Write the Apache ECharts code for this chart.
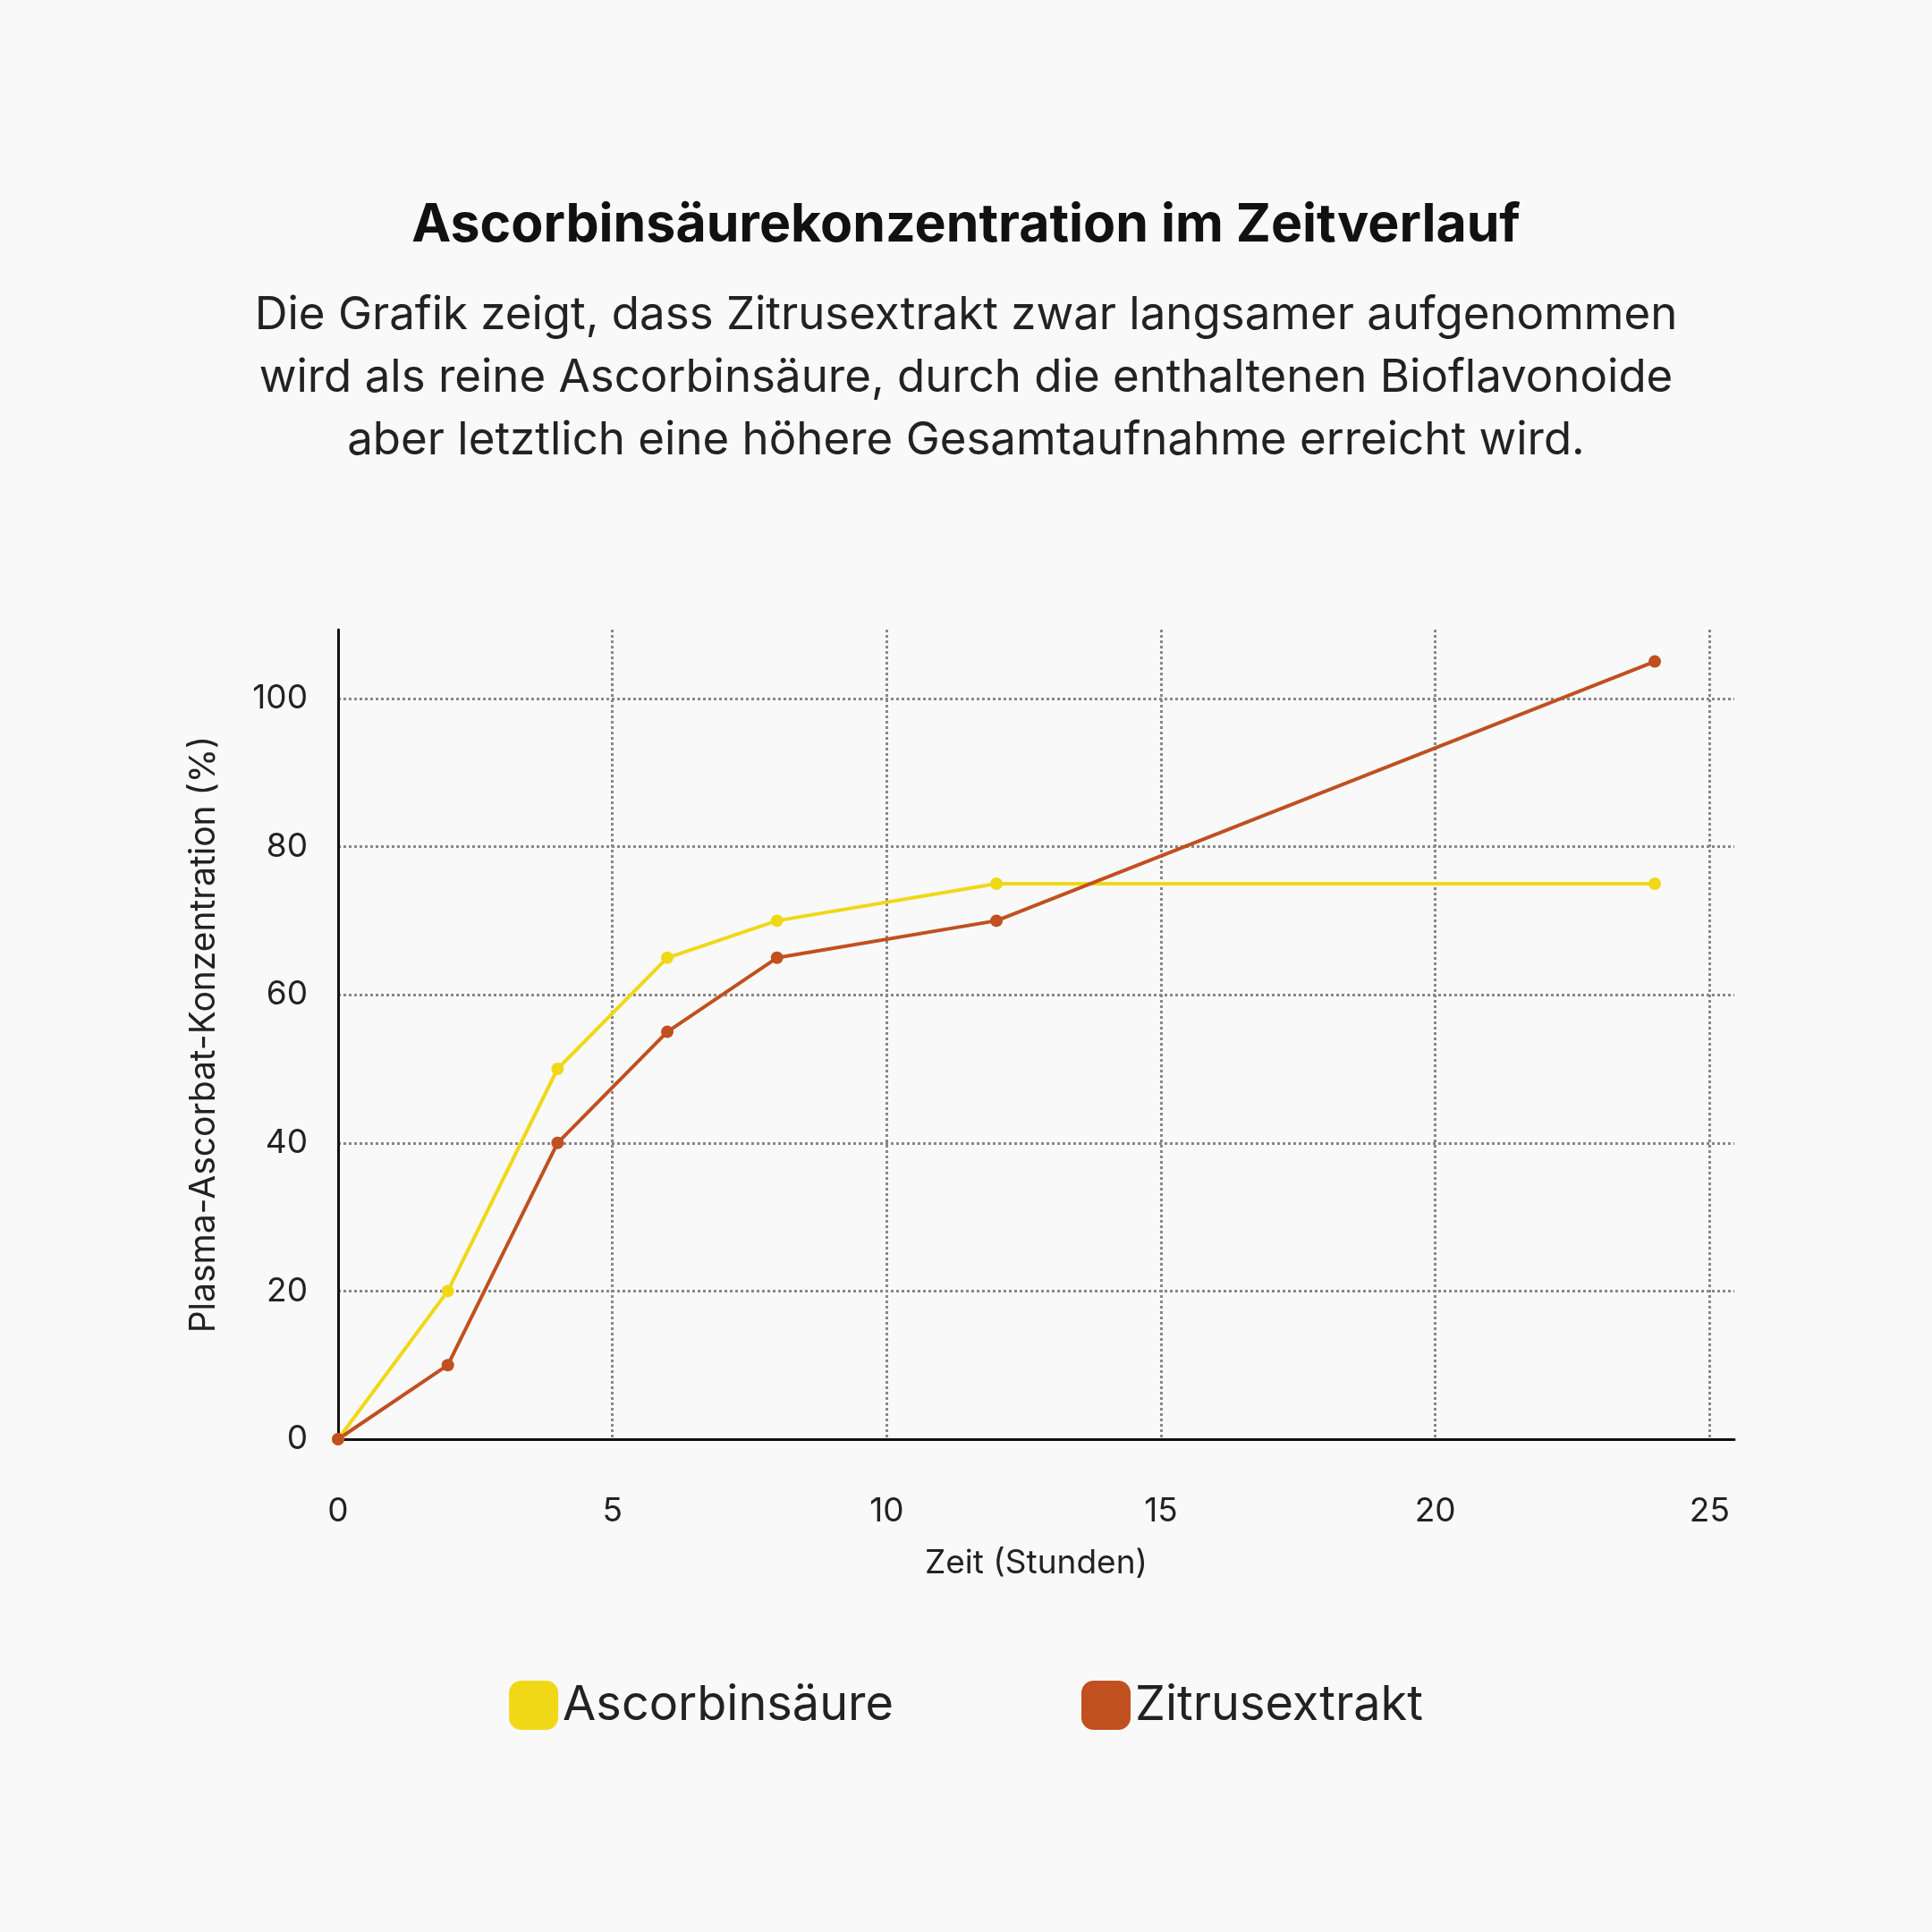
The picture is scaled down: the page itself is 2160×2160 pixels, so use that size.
<!DOCTYPE html>
<html><head><meta charset="utf-8">
<script src="https://cdn.jsdelivr.net/npm/echarts@6/dist/echarts.min.js"></script>
<style>html,body{margin:0;background:#f9f9f9}#c{width:2160px;height:2160px}</style>
</head><body><div id="c"></div>
<script>
const hours=[0,2,4,6,8,12,24];
const ascorbin=[0,20,50,65,70,75,75];
const zitrus=[0,10,40,55,65,70,105];
const F='Inter, "Noto Sans", sans-serif';
const chart=echarts.init(document.getElementById('c'));
const pair=a=>hours.map((h,i)=>[h,a[i]]);
chart.setOption({
 backgroundColor:'#f9f9f9',
 title:{text:'Ascorbinsäurekonzentration im Zeitverlauf',
  subtext:'Die Grafik zeigt, dass Zitrusextrakt zwar langsamer aufgenommen\nwird als reine Ascorbinsäure, durch die enthaltenen Bioflavonoide\naber letztlich eine höhere Gesamtaufnahme erreicht wird.',
  left:'center',top:218,itemGap:36,
  textStyle:{fontFamily:F,fontSize:59,fontWeight:'bold',color:'#111'},
  subtextStyle:{fontFamily:F,fontSize:51,color:'#222',lineHeight:70}},
 legend:{bottom:221,left:'center',itemWidth:55,itemHeight:55,itemGap:210,icon:'roundRect',
  textStyle:{fontFamily:F,fontSize:54,color:'#222'},
  data:['Ascorbinsäure','Zitrusextrakt']},
 grid:{left:378,right:221,top:704,bottom:551},
 xAxis:{type:'value',min:0,max:25.45,interval:5,
  name:'Zeit (Stunden)',nameLocation:'middle',nameGap:120,
  nameTextStyle:{fontFamily:F,fontSize:37,color:'#222'},
  axisLine:{lineStyle:{color:'#111',width:3}},axisTick:{show:false},
  axisLabel:{fontFamily:F,fontSize:37,color:'#222',margin:62,showMaxLabel:false},
  splitLine:{show:true,showMinLine:false,showMaxLine:false,lineStyle:{type:'dotted',color:'#888',width:3}}},
 yAxis:{type:'value',min:0,max:109.3,interval:20,
  name:'Plasma-Ascorbat-Konzentration (%)',nameLocation:'middle',nameGap:130,
  nameTextStyle:{fontFamily:F,fontSize:39,color:'#222'},
  axisLine:{show:true,lineStyle:{color:'#111',width:3}},axisTick:{show:false},
  axisLabel:{fontFamily:F,fontSize:37,color:'#222',margin:34,showMaxLabel:false},
  splitLine:{show:true,showMinLine:false,showMaxLine:false,lineStyle:{type:'dotted',color:'#888',width:3}}},
 series:[
  {name:'Ascorbinsäure',type:'line',data:pair(ascorbin),symbol:'circle',symbolSize:14,
   itemStyle:{color:'#f0d817'},lineStyle:{width:4,color:'#f0d817'}},
  {name:'Zitrusextrakt',type:'line',data:pair(zitrus),symbol:'circle',symbolSize:14,
   itemStyle:{color:'#c05020'},lineStyle:{width:4,color:'#c05020'}}
 ]
});
</script></body></html>
